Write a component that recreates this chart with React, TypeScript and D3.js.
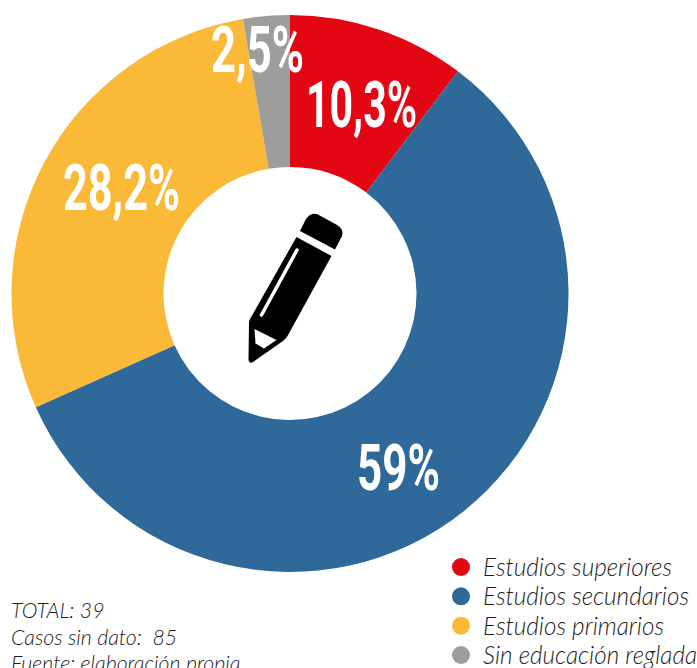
import * as d3 from "d3";

const categories = ["Estudios superiores", "Estudios secundarios", "Estudios primarios", "Sin educación reglada"];
// shares as drawn in the picture, the printed labels round them differently
const values = [10.3, 58, 29, 2.7];
const valueLabels = ["10,3%", "59%", "28,2%", "2,5%"];
const colors = ["#e30613", "#2f6999", "#fab937", "#9d9d9c"];
const notes = ["TOTAL: 39", "Casos sin dato:  85", "Fuente: elaboración propia"];

const width = 697;
const height = 668;
const cx = 290;
const cy = 293.5;
const outerRadius = 278.5;
const innerRadius = 126.5;

// hand placed, the labels don't sit on the centroids in the original
const labelPlacement = [
  { x: 306, y: 127, w: 111 },
  { x: 357, y: 490, w: 83 },
  { x: 63, y: 210, w: 117 },
  { x: 211, y: 72, w: 93 },
];
const legendWidths = [189, 206, 181, 214];

const legendRow = d3.scalePoint<string>().domain(categories).range([567, 655]);
const noteRow = d3.scalePoint<string>().domain(notes).range([618, 671]);

const pie = d3.pie<number>().sort(null);
const arc = d3.arc<d3.PieArcDatum<number>>().innerRadius(innerRadius).outerRadius(outerRadius);

const lightItalic = { fontFamily: "Lato, 'Open Sans', sans-serif", fontWeight: 300, fontStyle: "italic" } as const;

function Pencil() {
  return (
    <g>
      <path
        fill="#000"
        d="M300 231 L306 219 Q311 212 318 214.500 L337 225 Q344 229 342 236 L335 249.500 Z"
      />
      <path
        fill="#000"
        d="M296.500 237 L331.500 256 L287.500 336 Q285 339.500 283 341 L253 362 Q249 364 248.500 360 L249 322 Q249.500 320 250 319 Z"
      />
      <path fill="#fff" d="M254.500 329 L276.500 340 L264 348.500 L255.500 343.500 Z" />
      <line x1="297" y1="250" x2="261.500" y2="315" stroke="#fff" strokeWidth={3.5} strokeLinecap="round" />
    </g>
  );
}

export default function App() {
  const slices = pie(values);

  return (
    <svg
      width={width}
      height={height}
      style={{ position: "absolute", left: 0, top: 0, display: "block", background: "#fff" }}
    >
      <g transform={`translate(${cx},${cy})`}>
        {slices.map((s, i) => (
          <path key={categories[i]} d={arc(s) || ""} fill={colors[i]} />
        ))}
      </g>

      {valueLabels.map((label, i) => (
        <text
          key={label}
          x={labelPlacement[i].x}
          y={labelPlacement[i].y}
          textLength={labelPlacement[i].w}
          lengthAdjust="spacingAndGlyphs"
          fill="#fff"
          fontFamily="'Liberation Sans Narrow', Roboto, sans-serif"
          fontWeight={700}
          fontSize={64}
        >
          {label}
        </text>
      ))}

      <Pencil />

      {categories.map((c, i) => (
        <g key={c}>
          <circle cx={461} cy={legendRow(c)} r={9} fill={colors[i]} />
          <text
            x={483}
            y={(legendRow(c) as number) + 9}
            fontSize={25}
            fill="#1d1d1b"
            textLength={legendWidths[i]}
            lengthAdjust="spacingAndGlyphs"
            {...lightItalic}
          >
            {c}
          </text>
        </g>
      ))}

      {notes.map((n) => (
        <text
          key={n}
          x={11}
          y={noteRow(n)}
          fontSize={21.300}
          fill="#1d1d1b"
          style={{ whiteSpace: "pre" }}
          {...lightItalic}
        >
          {n}
        </text>
      ))}
    </svg>
  );
}
